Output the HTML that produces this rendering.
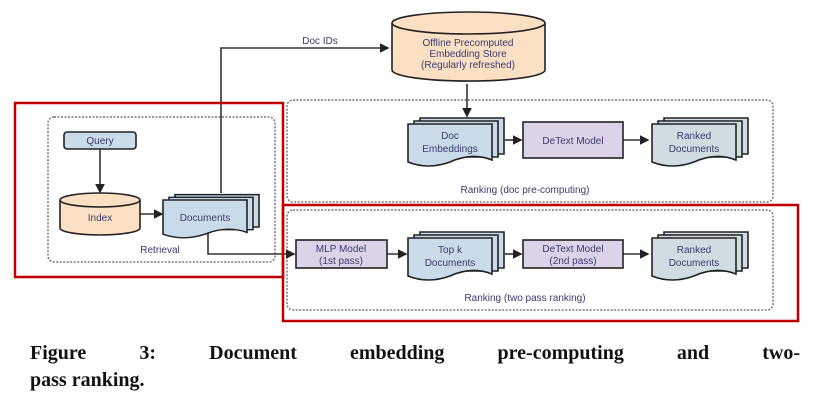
<!DOCTYPE html>
<html><head><meta charset="utf-8"><style>
body{margin:0;background:#fff;width:827px;height:408px;overflow:hidden}
svg{position:absolute;left:0;top:0}
.t{font-family:"Liberation Sans",sans-serif;font-size:10px;fill:#3a3a70;text-anchor:middle}
.cap{position:absolute;left:30px;width:770px;font-family:"Liberation Serif",serif;font-weight:bold;font-size:20px;line-height:27px;color:#111;white-space:nowrap}
.l1{top:340px;text-align:justify;text-align-last:justify;white-space:normal}
.l2{top:367px}
</style></head><body>
<svg width="827" height="408" viewBox="0 0 827 408">
<defs>
<marker id="a" markerWidth="6" markerHeight="6" refX="5" refY="3" orient="auto"><path d="M0,0 L6,3 L0,6z" fill="#222"/></marker>
<g id="stack">
<path d="M12,-6 h84 v36 h-84z" fill="#c9dbe9" stroke="#222" stroke-width="1.6"/>
<path d="M6,-3 h84 v36 h-84z" fill="#c9dbe9" stroke="#222" stroke-width="1.6"/>
<path d="M0,0 h84 v36 q-20,-8 -42,2 q-22,8 -42,0z" fill="#c9dbe9" stroke="#222" stroke-width="1.6"/>
</g>
<g id="stackg">
<path d="M12,-6 h84 v36 h-84z" fill="#cfdde2" stroke="#222" stroke-width="1.6"/>
<path d="M6,-3 h84 v36 h-84z" fill="#cfdde2" stroke="#222" stroke-width="1.6"/>
<path d="M0,0 h84 v36 q-20,-8 -42,2 q-22,8 -42,0z" fill="#cfdde2" stroke="#222" stroke-width="1.6"/>
</g>
</defs>
<g fill="none" stroke="#777" stroke-width="1.5" stroke-dasharray="2,1.5">
<rect x="48" y="117" width="227" height="145" rx="6"/>
<rect x="287" y="100" width="486" height="102" rx="6"/>
<rect x="287" y="210" width="486" height="100" rx="6"/>
</g>
<g stroke="#333" stroke-width="1.6" fill="none">
<path d="M221,193 V48 H388" marker-end="url(#a)"/>
<path d="M100,149 V192" marker-end="url(#a)"/>
<path d="M140,214 H162" marker-end="url(#a)"/>
<path d="M208,233 V254 H294" marker-end="url(#a)"/>
<path d="M467,84 V116" marker-end="url(#a)"/>
<path d="M505,140 H521" marker-end="url(#a)"/>
<path d="M623,140 H648" marker-end="url(#a)"/>
<path d="M387,254 H406" marker-end="url(#a)"/>
<path d="M505,254 H521" marker-end="url(#a)"/>
<path d="M623,254 H648" marker-end="url(#a)"/>
</g>
<text class="t" x="320" y="44">Doc IDs</text>
<path d="M392,23 V70 A76,11 0 0 0 545,70 V23" fill="#fbe0c4" stroke="#222" stroke-width="1.6"/>
<ellipse cx="468.5" cy="23" rx="76.5" ry="11" fill="#fbe0c4" stroke="#222" stroke-width="1.6"/>
<text class="t" x="468" y="46" font-size="9.5">Offline Precomputed</text>
<text class="t" x="468" y="57" font-size="9.5">Embedding Store</text>
<text class="t" x="468" y="68" font-size="9.5">(Regularly refreshed)</text>
<rect x="64" y="132" width="72" height="17" rx="3" fill="#c9dbe9" stroke="#222" stroke-width="1.6"/>
<text class="t" x="100" y="144">Query</text>
<path d="M60,200 V228 A40,7 0 0 0 140,228 V200" fill="#fbe0c4" stroke="#222" stroke-width="1.6"/>
<ellipse cx="100" cy="200" rx="40" ry="7" fill="#fbe0c4" stroke="#222" stroke-width="1.6"/>
<text class="t" x="100" y="221">Index</text>
<use href="#stack" transform="translate(163,200) scale(1,0.9)"/>
<text class="t" x="205" y="221">Documents</text>
<text class="t" x="160" y="253" font-size="11">Retrieval</text>
<use href="#stack" transform="translate(408,124)"/>
<text class="t" x="450" y="139">Doc</text>
<text class="t" x="450" y="152">Embeddings</text>
<rect x="523" y="122" width="100" height="36" fill="#ddd3e8" stroke="#222" stroke-width="1.6"/>
<text class="t" x="573" y="144">DeText Model</text>
<use href="#stackg" transform="translate(652,124)"/>
<text class="t" x="694" y="139">Ranked</text>
<text class="t" x="694" y="152">Documents</text>
<text class="t" x="525" y="193" font-size="11">Ranking (doc pre-computing)</text>
<rect x="296" y="240" width="91" height="28" fill="#ddd3e8" stroke="#222" stroke-width="1.6"/>
<text class="t" x="341" y="252">MLP Model</text>
<text class="t" x="341" y="264">(1st pass)</text>
<use href="#stack" transform="translate(408,238)"/>
<text class="t" x="450" y="253">Top k</text>
<text class="t" x="450" y="266">Documents</text>
<rect x="523" y="240" width="100" height="28" fill="#ddd3e8" stroke="#222" stroke-width="1.6"/>
<text class="t" x="573" y="252">DeText Model</text>
<text class="t" x="573" y="264">(2nd pass)</text>
<use href="#stackg" transform="translate(652,238)"/>
<text class="t" x="694" y="253">Ranked</text>
<text class="t" x="694" y="266">Documents</text>
<text class="t" x="525" y="301" font-size="11">Ranking (two pass ranking)</text>
<g fill="none" stroke="#c00000" stroke-width="2.5">
<rect x="15" y="103" width="268" height="174"/>
<rect x="283" y="205" width="515" height="116"/>
</g>
</svg>
<div class="cap l1">Figure 3: Document embedding pre-computing and two-</div>
<div class="cap l2">pass ranking.</div>
</body></html>
